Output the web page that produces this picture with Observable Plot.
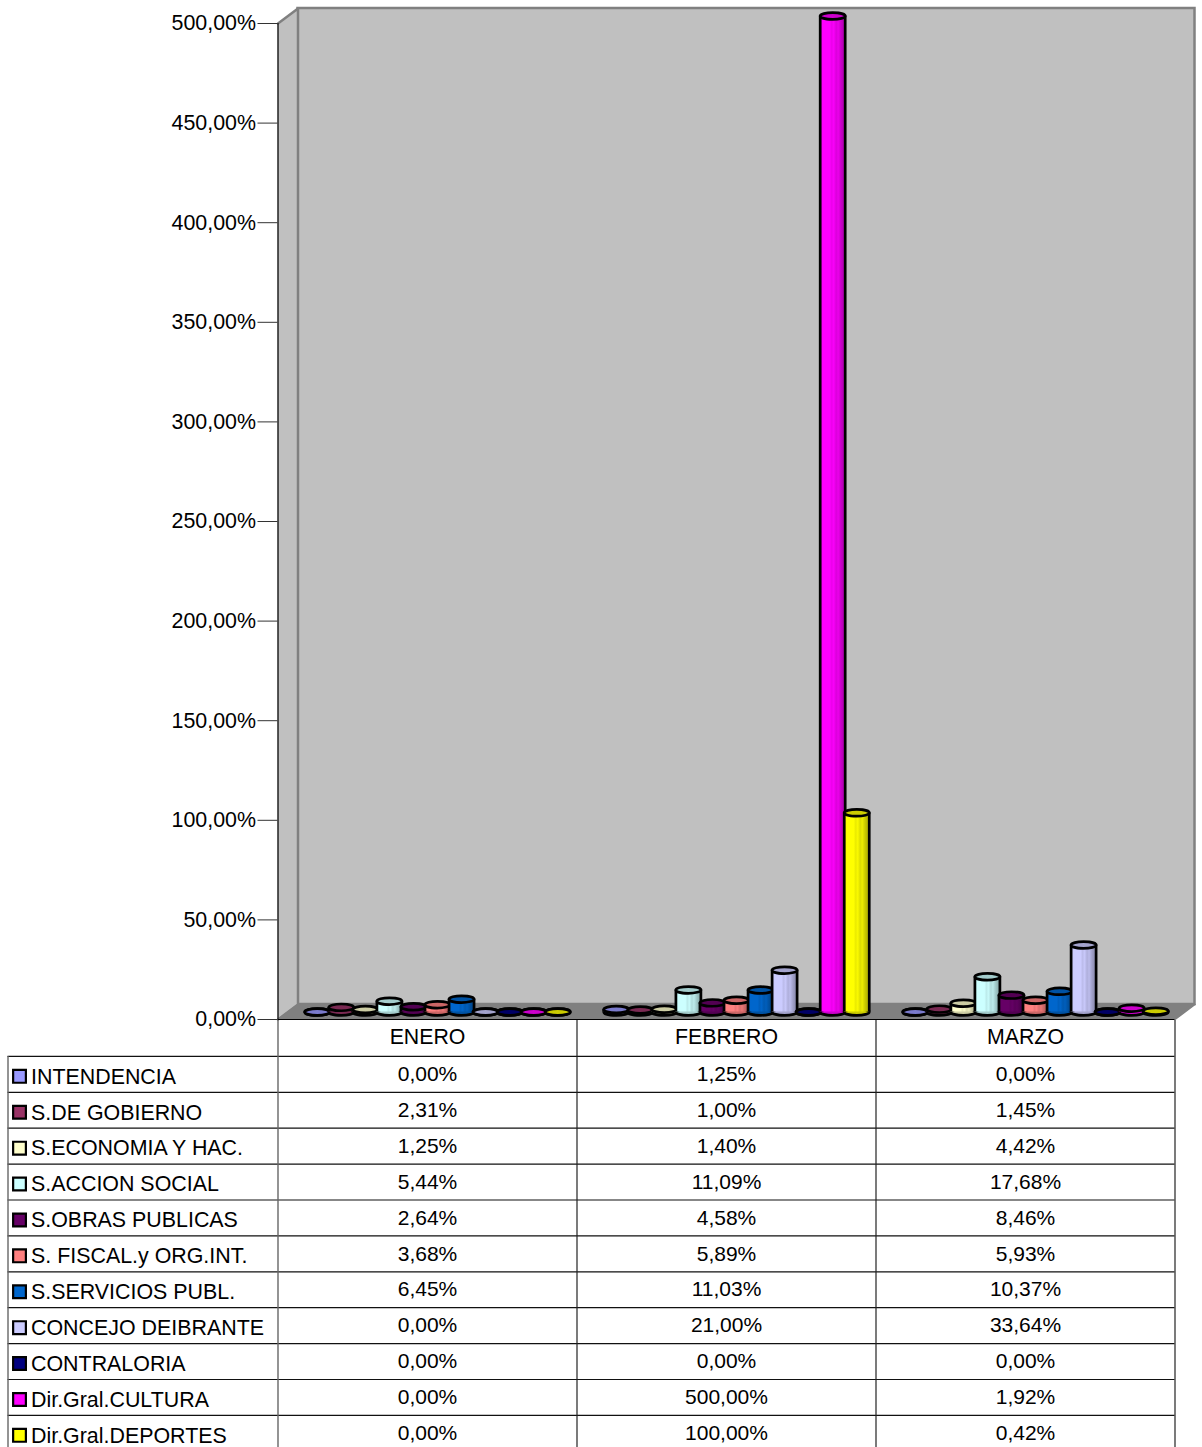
<!DOCTYPE html>
<html lang="es">
<head>
<meta charset="utf-8">
<title>Chart</title>
<style>
html,body{margin:0;padding:0;background:#fff;overflow:hidden}
svg{display:block}
</style>
<script src="https://cdn.jsdelivr.net/npm/d3@7"></script>
<script src="https://cdn.jsdelivr.net/npm/@observablehq/plot@0.6"></script>
</head>
<body>
<div id="chart"></div>
<script>
const months = ["ENERO", "FEBRERO", "MARZO"];
const names = ["INTENDENCIA", "S.DE GOBIERNO", "S.ECONOMIA Y HAC.", "S.ACCION SOCIAL", "S.OBRAS PUBLICAS", "S. FISCAL.y ORG.INT.", "S.SERVICIOS PUBL.", "CONCEJO DEIBRANTE", "CONTRALORIA", "Dir.Gral.CULTURA", "Dir.Gral.DEPORTES"];
const colors = ["#9999ff", "#993366", "#ffffcc", "#ccffff", "#660066", "#ff8080", "#0066cc", "#ccccff", "#000080", "#ff00ff", "#ffff00"];
const intendencia = [0, 1.25, 0];
const gobierno = [2.31, 1.00, 1.45];
const economia = [1.25, 1.40, 4.42];
const accionSocial = [5.44, 11.09, 17.68];
const obras = [2.64, 4.58, 8.46];
const fiscal = [3.68, 5.89, 5.93];
const servicios = [6.45, 11.03, 10.37];
const concejo = [0, 21.00, 33.64];
const contraloria = [0, 0, 0];
const cultura = [0, 500.00, 1.92];
const deportes = [0, 100.00, 0.42];
const seriesValues = [intendencia, gobierno, economia, accionSocial, obras, fiscal, servicios, concejo, contraloria, cultura, deportes];
const yTicks = [0, 50, 100, 150, 200, 250, 300, 350, 400, 450, 500];

const FONT = "'Liberation Sans', Arial, sans-serif";
const pct = v => v.toFixed(2).replace(".", ",") + "%";

// layout, in scale units
const catPx = 299, valPx = 1.992;
const depthX = 20 / catPx, depthY = 15 / valPx;
const step = 24.05 / catPx, halfW = 12.5 / catPx;

const shade = (hex, k) => { const c = d3.rgb(hex); return d3.rgb(c.r * k, c.g * k, c.b * k).formatHex(); };

function defs() {
  const NS = "http://www.w3.org/2000/svg";
  const d = document.createElementNS(NS, "defs");
  colors.forEach((c, i) => {
    const g = document.createElementNS(NS, "linearGradient");
    g.setAttribute("id", "cyl" + i);
    [[0, 0.88], [0.12, 1], [0.4, 1], [0.48, 0.92], [0.56, 0.98], [0.66, 0.86], [0.74, 0.92], [0.86, 0.78], [1, 0.66]].forEach(([o, k]) => {
      const s = document.createElementNS(NS, "stop");
      s.setAttribute("offset", o);
      s.setAttribute("stop-color", shade(c, k));
      g.appendChild(s);
    });
    d.appendChild(g);
  });
  return d;
}

const ellipse = {
  draw(ctx, size) {
    const rx = Math.sqrt(size / Math.PI), ry = rx * 0.27, k = 0.5523;
    ctx.moveTo(-rx, 0);
    ctx.bezierCurveTo(-rx, -ry * k, -rx * k, -ry, 0, -ry);
    ctx.bezierCurveTo(rx * k, -ry, rx, -ry * k, rx, 0);
    ctx.bezierCurveTo(rx, ry * k, rx * k, ry, 0, ry);
    ctx.bezierCurveTo(-rx * k, ry, -rx, ry * k, -rx, 0);
    ctx.closePath();
  }
};

const wallStroke = "#808080";
const sideWall = [{x: 0, y: 0}, {x: depthX, y: depthY}, {x: depthX, y: 500 + depthY}, {x: 0, y: 500}];
const floor = [{x: 0, y: 0}, {x: depthX, y: depthY}, {x: 3 + depthX, y: depthY}, {x: 3, y: 0}];

const cylinderMarks = names.flatMap((name, s) => {
  const rows = months.map((m, j) => {
    const cx = j + 0.5 + depthX / 2 + (s - 5) * step;
    return {cx, x1: cx - halfW, x2: cx + halfW, base: depthY / 2, top: depthY / 2 + seriesValues[s][j]};
  });
  const line = {stroke: "#000", strokeWidth: 2.7};
  return [
    Plot.dot(rows, {x: "cx", y: "base", symbol: ellipse, r: 12.5, fill: shade(colors[s], 0.8), ...line}),
    Plot.rect(rows, {x1: "x1", x2: "x2", y1: "base", y2: "top", fill: `url(#cyl${s})`}),
    Plot.ruleX(rows, {x: "x1", y1: "base", y2: "top", ...line}),
    Plot.ruleX(rows, {x: "x2", y1: "base", y2: "top", ...line}),
    Plot.dot(rows, {x: "cx", y: "top", symbol: ellipse, r: 12.5, fill: shade(colors[s], 0.8), ...line})
  ];
});

const chart = Plot.plot({
  width: 1202, height: 1020,
  marginLeft: 277.5, marginRight: 27.5, marginTop: 23, marginBottom: 1,
  style: {fontFamily: FONT, fontSize: "21px", color: "#000", background: "#fff", overflow: "visible"},
  x: {domain: [0, 3], axis: null},
  y: {domain: [0, 500], label: null},
  marks: [
    defs,
    Plot.rect([{}], {x1: depthX, x2: 3 + depthX, y1: depthY, y2: 500 + depthY, fill: "#c0c0c0", stroke: wallStroke, strokeWidth: 2.5}),
    Plot.line(sideWall, {x: "x", y: "y", fill: "#c0c0c0", stroke: wallStroke, strokeWidth: 2.5}),
    Plot.line(floor, {x: "x", y: "y", fill: "#808080", stroke: wallStroke, strokeWidth: 1.5}),
    Plot.ruleX([0], {y1: 0, y2: 500, stroke: "#222", strokeWidth: 1.5}),
    Plot.ruleY([0], {x1: 0, x2: 3, stroke: "#000", strokeWidth: 1.2}),
    ...cylinderMarks,
    Plot.axisY({ticks: yTicks, tickFormat: pct, tickSize: 20, tickPadding: 2, fontSize: 21.4, stroke: "#333", fill: "#000", label: null})
  ]
});

// data table under the chart: one row per series, one column per month
const cells = names.flatMap((name, s) => months.map((m, j) => ({col: j + 0.5, row: s + 0.5, text: pct(seriesValues[s][j])})));
const legendRows = names.map((name, s) => ({name, row: s + 0.5, color: colors[s]}));
const labelX = -0.826, swatchX = -0.8645, frameX = -0.903;
const hLines = d3.range(0, 11);

const table = Plot.plot({
  width: 1202, height: 427,
  marginLeft: 277.5, marginRight: 27.5, marginTop: 0, marginBottom: 0,
  style: {fontFamily: FONT, fontSize: "21px", color: "#000", background: "#fff"},
  x: {domain: [0, 3], axis: null},
  y: {domain: [-1, 11], range: [0, 430.8], axis: null},
  marks: [
    Plot.ruleY(hLines, {x1: frameX, x2: 3, stroke: "#111", strokeWidth: 1.2}),
    Plot.ruleX([1, 2, 3], {y1: -1, y2: 11, stroke: "#222", strokeWidth: 1.2}),
    Plot.ruleX([0], {y1: -1, y2: 11, stroke: "#666", strokeWidth: 1.4}),
    Plot.ruleX([frameX], {y1: 0, y2: 11, stroke: "#666", strokeWidth: 1.4}),
    Plot.text(months, {x: (d, i) => i + 0.5, y: -0.5, dy: -1, text: d => d, fontSize: 21.3, fill: "#000"}),
    Plot.text(cells, {x: "col", y: "row", text: "text", fontSize: 21, fill: "#000"}),
    Plot.dot(legendRows, {x: swatchX, y: "row", dy: 2, symbol: "square", r: 7.2, fill: "color", stroke: "#000", strokeWidth: 2.2}),
    Plot.text(legendRows, {x: labelX, y: "row", dy: 2.4, text: "name", textAnchor: "start", fontSize: 21.4, fill: "#000"})
  ]
});

const root = document.getElementById("chart");
root.appendChild(chart);
root.appendChild(table);
</script>
</body>
</html>
